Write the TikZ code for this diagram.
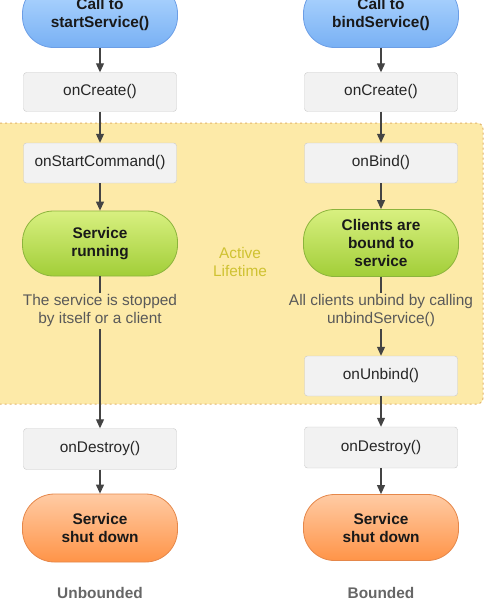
\documentclass[tikz,border=0pt]{standalone}
\usepackage{fontspec}
\setmainfont{Liberation Sans}
\usetikzlibrary{arrows.meta, positioning}

\definecolor{lifeFill}{HTML}{FDEAA8}
\definecolor{lifeLine}{HTML}{E2B36A}
\definecolor{lifeText}{HTML}{CFC232}
\definecolor{boxFill}{HTML}{F2F2F2}
\definecolor{boxLine}{HTML}{C9C9C9}
\definecolor{blueTop}{HTML}{B4D9FF}
\definecolor{blueBot}{HTML}{78B0F4}
\definecolor{blueLine}{HTML}{6C9EE6}
\definecolor{greenTop}{HTML}{D8F080}
\definecolor{greenBot}{HTML}{A2CE38}
\definecolor{greenLine}{HTML}{8CB43C}
\definecolor{orangeTop}{HTML}{FFCBA4}
\definecolor{orangeBot}{HTML}{FF9448}
\definecolor{orangeLine}{HTML}{E5874A}
\definecolor{arrowGray}{HTML}{444444}

\tikzset{
    method/.style={draw=boxLine, fill=boxFill, rounded corners=3pt,
        minimum width=153pt, minimum height=39pt, text=black!85,
        font=\fontsize{15.4}{18}\selectfont},
    state/.style={rounded corners=31pt, minimum width=155pt, minimum height=65pt,
        align=center, text=black!90, line width=0.8pt,
        font=\bfseries\fontsize{15.4}{18}\selectfont},
    bluestate/.style={state, draw=blueLine, top color=blueTop, bottom color=blueBot},
    greenstate/.style={state, draw=greenLine, top color=greenTop, bottom color=greenBot},
    orangestate/.style={state, draw=orangeLine, top color=orangeTop, bottom color=orangeBot},
    note/.style={align=center, text=black!65, inner sep=2pt,
        font=\fontsize{15.4}{18}\selectfont},
    caption/.style={text=black!60, font=\bfseries\fontsize{15.4}{18}\selectfont},
    flowline/.style={draw=arrowGray, line width=1.1pt},
    flow/.style={flowline, -{Triangle[width=8pt,length=9pt]}},
}

\begin{document}
\begin{tikzpicture}[x=1pt, y=-1pt]
    \useasboundingbox (0,0) rectangle (484,599);

    % vung active lifetime
    \draw[fill=lifeFill, draw=lifeLine, line width=1pt, dash pattern=on 2pt off 3pt,
        rounded corners=6pt] (-8,123) rectangle (483,404);
    \node[text=lifeText, align=center, font=\fontsize{15.4}{18}\selectfont] (active)
        at (240,262) {Active\\Lifetime};

    % cot trai: startService()
    \node[bluestate] (callL) at (100,15) {Call to\\startService()};
    \node[method] (createL) at (100,92) {onCreate()};
    \node[method, minimum height=40pt] (startL) at (100,163) {onStartCommand()};
    \node[greenstate] (runL) at (100,243.5) {Service\\running};
    \node[note] (stopL) at (100,311) {The service is stopped\\by itself or a client};
    \node[method, minimum height=41pt] (destroyL) at (100,449) {onDestroy()};
    \node[orangestate, minimum height=68pt, rounded corners=32pt] (downL) at (100,528) {Service\\shut down};
    \node[caption] (unbounded) at (100,593) {Unbounded};

    % cot phai: bindService()
    \node[bluestate] (callR) at (381,15) {Call to\\bindService()};
    \node[method] (createR) at (381,92) {onCreate()};
    \node[method, minimum height=40pt] (bindR) at (381,163) {onBind()};
    \node[greenstate, minimum height=67pt] (boundR) at (381,243) {Clients are\\bound to\\service};
    \node[note] (unbindT) at (381,311) {All clients unbind by calling\\unbindService()};
    \node[method, minimum height=40pt] (unbindR) at (381,376) {onUnbind()};
    \node[method, minimum height=41pt] (destroyR) at (381,447.5) {onDestroy()};
    \node[orangestate, minimum height=66pt] (downR) at (381,527.5) {Service\\shut down};
    \node[caption] (bounded) at (381,593) {Bounded};

    % mui ten
    \draw[flow] (callL) -- (createL);
    \draw[flow] (createL) -- (startL);
    \draw[flow] (startL) -- (runL);
    \draw[flowline] (runL) -- (stopL);
    \draw[flow] (stopL) -- (destroyL);
    \draw[flow] (destroyL) -- (downL);

    \draw[flow] (callR) -- (createR);
    \draw[flow] (createR) -- (bindR);
    \draw[flow] (bindR) -- (boundR);
    \draw[flowline] (boundR) -- (unbindT);
    \draw[flow] (unbindT) -- (unbindR);
    \draw[flow] (unbindR) -- (destroyR);
    \draw[flow] (destroyR) -- (downR);

\end{tikzpicture}
\end{document}
